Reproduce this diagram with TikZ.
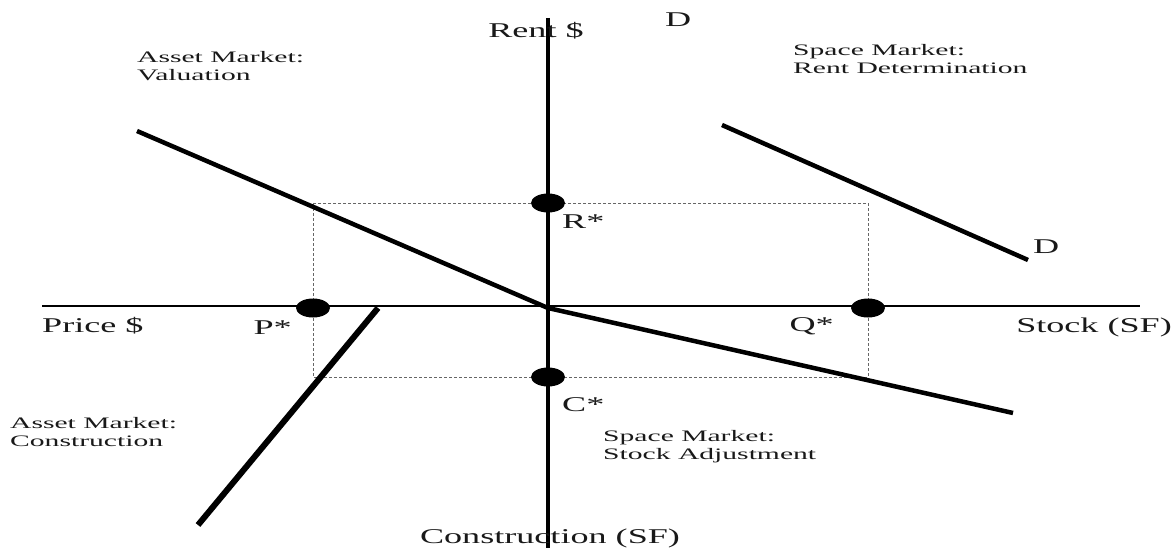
\documentclass[tikz,border=0pt]{standalone}
\usepackage{fontspec}
\setmainfont{Liberation Serif}
\usetikzlibrary{shapes.geometric}
\newcommand\widebig[1]{\scalebox{1.72}[1]{#1}}
\newcommand\widesmall[1]{\scalebox{1.85}[1]{#1}}
\tikzset{
  axisv/.style={line width=3.5pt,black},
  axish/.style={line width=2.2pt,black},
  curve/.style={line width=4.5pt,black},
  thickcurve/.style={line width=6pt,black},
  guide/.style={line width=0.8pt,black!60,densely dashed},
  dot/.style={ellipse,fill=black,minimum width=34pt,minimum height=19pt,inner sep=0pt},
  big/.style={font=\fontsize{21}{23}\selectfont,text=black!90,inner sep=0pt},
  small/.style={font=\fontsize{16}{18}\selectfont,text=black!90,inner sep=0pt,align=left},
}
\begin{document}
\begin{tikzpicture}[x=1pt,y=-1pt]
\useasboundingbox[fill=white] (0,0) rectangle (1172,548);
% axis end points
\coordinate (vtop) at (548,18);
\coordinate (vbot) at (548,548);
\coordinate (hleft) at (42,306);
\coordinate (hright) at (1140,306);
\coordinate (O) at (548,308);
% curve end points
\coordinate (val0) at (137,131);
\coordinate (stk1) at (1013,413);
\coordinate (con0) at (378,308);
\coordinate (con1) at (198,525);
\coordinate (dem0) at (722,125);
\coordinate (dem1) at (1028,260);
% equilibrium points (positions)
\coordinate (Rp) at (548,203);
\coordinate (Pp) at (313,308);
\coordinate (Qp) at (868,308);
\coordinate (Cp) at (548,377);
% dashed equilibrium box
\draw[guide] (Pp |- Rp) rectangle (Qp |- Cp);
% axes
\draw[axish] (hleft) -- (hright);
\draw[axisv] (vtop) -- (vbot);
% curves
\draw[curve] (val0) -- (O) -- (stk1);
\draw[thickcurve] (con0) -- (con1);
\draw[curve] (dem0) -- (dem1);
% dots
\node[dot] (R) at (Rp) {};
\node[dot] (P) at (Pp) {};
\node[dot] (Q) at (Qp) {};
\node[dot] (C) at (Cp) {};
% axis labels
\node[big,anchor=base] (rent) at (536,38) {\widebig{Rent \$}};
\node[big,anchor=base] (constr) at (550,543) {\widebig{Construction (SF)}};
\node[big,anchor=base west] (price) at (42,332) {\widebig{Price \$}};
\node[big,anchor=base east] (stock) at (1172,332) {\widebig{Stock (SF)}};
% point labels
\node[big,anchor=base west] (Rl) at (562,229) {\widebig{R*}};
\node[big,anchor=base west] (Cl) at (562,411) {\widebig{C*}};
\node[big,anchor=base east] (Pl) at (292,334) {\widebig{P*}};
\node[big,anchor=base east] (Ql) at (834,331) {\widebig{Q*}};
\node[big,anchor=base west] (Dtop) at (665,27) {\widebig{D}};
\node[big,anchor=base west] (Dbot) at (1033,253) {\widebig{D}};
% quadrant labels
\node[small,anchor=base west] (q1) at (137,81) {\widesmall{Asset Market:}\\\widesmall{Valuation}};
\node[small,anchor=base west] (q2) at (793,74) {\widesmall{Space Market:}\\\widesmall{Rent Determination}};
\node[small,anchor=base west] (q3) at (10,446) {\widesmall{Asset Market:}\\\widesmall{Construction}};
\node[small,anchor=base west] (q4) at (603,459) {\widesmall{Space Market:}\\\widesmall{Stock Adjustment}};
\end{tikzpicture}
\end{document}
